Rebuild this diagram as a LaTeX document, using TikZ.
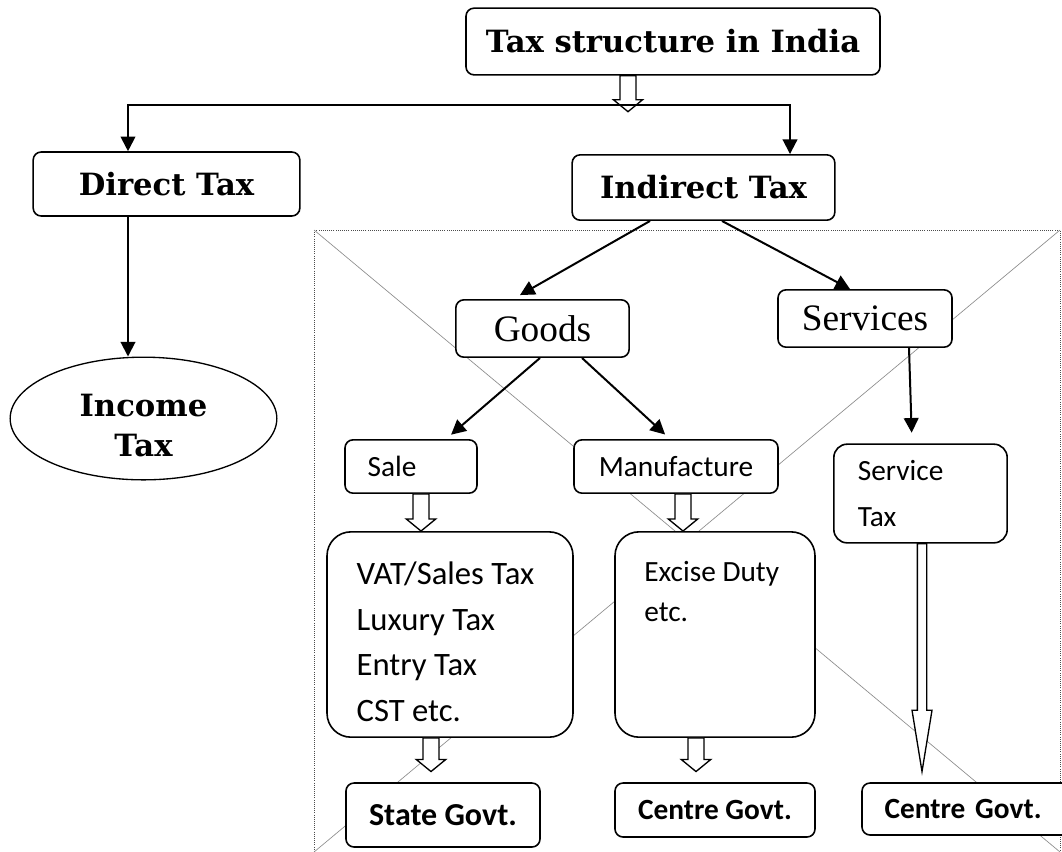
\documentclass[tikz,border=0pt]{standalone}
\usepackage{fontspec}
\setmainfont{DejaVu Serif}
\newfontfamily\calfont{Carlito}
\newfontfamily\timesfont{Liberation Serif}
\usetikzlibrary{shapes.geometric,arrows.meta,calc}

\begin{document}
\begin{tikzpicture}[x=0.75pt,y=-0.75pt,
    box/.style={draw, line width=1.2pt, rounded corners=6pt, fill=white, inner sep=0pt},
    bigbox/.style={box, rounded corners=18pt},
    headfont/.style={font=\fontsize{23}{30}\selectfont\bfseries},
    serif/.style={font=\timesfont\fontsize{28}{30}\selectfont},
    body/.style={font=\calfont\fontsize{22}{34}\selectfont},
    govt/.style={font=\calfont\bfseries\fontsize{22}{26}\selectfont},
    arr/.style={line width=1.5pt, -{Triangle[length=11pt,width=11pt]}},
    hollow/.style={draw, fill=white, line width=1pt, line join=miter},
    frame/.style={draw=black!70, densely dotted, line width=0.6pt},
    cross/.style={draw=black!45, line width=0.5pt}]

    \clip (0,0) rectangle (1062,851);

    % placeholder frame behind the indirect branch
    \draw[frame] (314,230) rectangle (1060,852);
    \draw[cross] (314,230) -- (1060,852) (1060,230) -- (314,852);

    % top level
    \node[box, headfont, minimum width=310.5pt, minimum height=50pt] (top) at (673,41.5) {Tax structure in India};
    \coordinate (fork) at (628,105);

    % direct branch
    \node[box, headfont, minimum width=200pt, minimum height=48pt] (direct) at (166.5,184) {Direct Tax};
    \node[draw, ellipse, line width=1pt, fill=white, inner sep=0pt, headfont, align=center,
          minimum width=200pt, minimum height=92pt] (income) at (143.5,418.5) {\rule{0pt}{27pt}Income\\Tax};

    % indirect branch
    \node[box, headfont, minimum width=197pt, minimum height=49pt] (indirect) at (703.5,187.5) {Indirect Tax};
    \node[box, serif, minimum width=130pt, minimum height=43pt] (goods) at (542.5,328.5) {Goods};
    \node[box, serif, minimum width=130.5pt, minimum height=43pt] (services) at (865,318.5) {Services};

    \node[box, body, minimum width=99pt, minimum height=40pt, text width=65pt, align=left] (sale) at (411,466.5) {Sale};
    \node[box, body, minimum width=153pt, minimum height=40pt] (manufacture) at (676,466.5) {Manufacture};
    \node[box, rounded corners=10pt, body, minimum width=130pt, minimum height=74pt,
          text width=94pt, align=left] (servicetax) at (920.5,493.5) {Service\\Tax};

    \node[bigbox, body, minimum width=184.5pt, minimum height=154pt] (vat) at (450,634.5)
        {\parbox[c][154pt][t]{140pt}{\fontsize{24.5}{34.3}\selectfont\vspace*{22.5pt}VAT/Sales Tax\\Luxury Tax\\Entry Tax\\CST etc.}};
    \node[bigbox, body, minimum width=150pt, minimum height=154pt] (excise) at (715,634.5)
        {\parbox[c][154pt][t]{106pt}{\vspace*{22.3pt}Excise Duty\\[-4pt]etc.}};

    % who collects
    \node[box, govt, font={\calfont\bfseries\fontsize{24}{26}\selectfont}, minimum width=145.5pt, minimum height=48pt] (state) at (443,815) {State Govt.};
    \node[box, govt, minimum width=150pt, minimum height=40.5pt] (centre1) at (715,810) {Centre Govt.};
    \node[box, govt, minimum width=159pt, minimum height=39pt, text width=125pt, align=left] (centre2) at (968,809) {Centre Govt.};

    % hollow block arrows
    \foreach \xpos/\src/\dst/\gap in {628/top.south/fork/-5, 421/sale.south/vat.north/0,
            683/manufacture.south/excise.north/0, 431/vat.south/state.north/8, 696/excise.south/centre1.north/8} {
        \draw[hollow] let \p1=(\xpos,0 |- \src), \p2=($(\xpos,0 |- \dst)+(0pt,\gap pt)$) in
            (\x1-6pt,\y1) -- (\x1-6pt,\y2+9pt) -- (\x1-11pt,\y2+9pt) -- (\x1,\y2)
            -- (\x1+11pt,\y2+9pt) -- (\x1+6pt,\y2+9pt) -- (\x1+6pt,\y1) -- cycle;
    }
    \draw[hollow] let \p1=(922,0 |- servicetax.south), \p2=($(922,0 |- centre2.north)+(0pt,8pt)$) in
        (\x1-3.5pt,\y1) -- (\x1-3.5pt,\y2+46pt) -- (\x1-7.5pt,\y2+46pt) -- (\x1,\y2)
        -- (\x1+7.5pt,\y2+46pt) -- (\x1+3.5pt,\y2+46pt) -- (\x1+3.5pt,\y1) -- cycle;

    % solid arrows
    \draw[arr] (fork) -| (128,0 |- direct.north);
    \draw[arr] (fork) -| (790,0 |- indirect.north);
    \foreach \xa/\src/\xb/\dst/\gap in {128/direct.south/128/income.north/0,
            650/indirect.south/513/goods.north/6, 722/indirect.south/850/services.north/0,
            540/goods.south/446/sale.north/5, 582/goods.south/670/manufacture.north/5,
            909/services.south/912/servicetax.north/8} {
        \draw[arr, shorten >=\gap pt] (\xa,0 |- \src) -- (\xb,0 |- \dst);
    }

\end{tikzpicture}
\end{document}
